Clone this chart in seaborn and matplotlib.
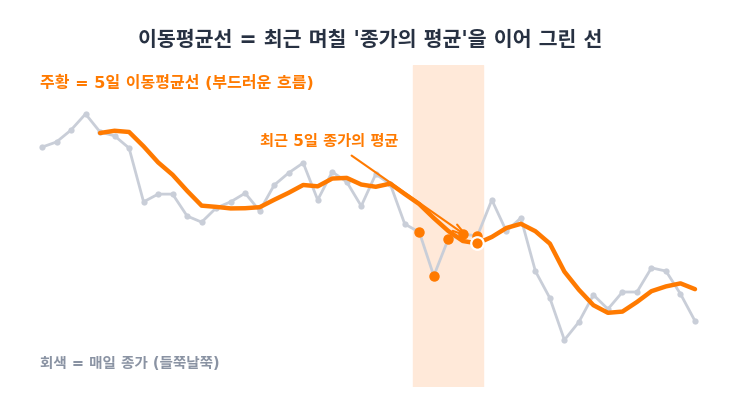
import matplotlib
matplotlib.use("Agg")
import matplotlib.pyplot as plt
import pandas as pd
import seaborn as sns

# daily closing prices (arbitrary scale 0-100)
close = [74.5, 76.1, 79.8, 84.8, 79.2, 78.0, 74.2, 57.5, 59.9, 59.9,
         53.1, 51.2, 55.6, 57.5, 60.2, 54.7, 62.7, 66.5, 69.6, 58.1,
         66.8, 63.7, 56.2, 66.1, 63.0, 50.6, 48.1, 34.5, 46.0, 47.5,
         46.9, 58.1, 48.4, 52.5, 36.0, 27.6, 14.6, 20.2, 28.6, 24.2,
         29.5, 29.5, 37.0, 36.0, 28.9, 20.5]
window = 5
focus_day = 30  # last day of the highlighted 5-day window

title = "이동평균선 = 최근 며칠 '종가의 평균'을 이어 그린 선"
orange_note = "주황 = 5일 이동평균선 (부드러운 흐름)"
gray_note = "회색 = 매일 종가 (들쭉날쭉)"
arrow_note = "최근 5일 종가의 평균"

ORANGE = "#ff7a00"
GRAY = "#c9ced8"

df = pd.DataFrame({"day": range(len(close)), "close": close})
df["ma"] = df["close"].rolling(window).mean()
win = df[(df["day"] > focus_day - window) & (df["day"] <= focus_day)]

sns.set_style("white")
# latin glyphs/spaces from DejaVu (wider), hangul falls back to Noto CJK
plt.rcParams["font.family"] = ["DejaVu Sans", "Noto Sans CJK KR"]

fig = plt.figure(figsize=(7.36, 4.14), dpi=100)
ax = fig.add_axes([20 / 736, 1 - 388 / 414, 696 / 736, 322 / 414])

ax.axvspan(focus_day - window + 0.6, focus_day + 0.4, color="#ffe9d9", zorder=0)

sns.lineplot(data=df, x="day", y="close", ax=ax, color=GRAY, linewidth=2,
             marker="o", markersize=4.5, markeredgewidth=0, zorder=2)
sns.lineplot(data=df.dropna(), x="day", y="ma", ax=ax, color=ORANGE,
             linewidth=3.2, zorder=3)
ax.plot(win["day"], win["close"], "o", color=ORANGE, markersize=6.5, zorder=4)
ax.plot([focus_day], [df["ma"][focus_day]], "o", color=ORANGE, markersize=9,
        markeredgecolor="white", markeredgewidth=1.6, zorder=6)

ax.annotate(arrow_note, xy=(focus_day, df["ma"][focus_day]), xytext=(19.8, 76.7),
            ha="center", va="center", fontsize=11, fontweight="bold", color=ORANGE,
            arrowprops=dict(arrowstyle="->,head_length=0.9,head_width=0.25",
                            color=ORANGE, lw=1.5, shrinkA=6, shrinkB=7),
            zorder=5)

ax.set_xlim(-1.516, 46.447)
ax.set_ylim(0, 100)
ax.set_axis_off()

fig.text(370 / 736, 1 - 40 / 414, title, ha="center", va="center", fontsize=14.8,
         fontweight="bold", color="#273142")
fig.text(40 / 736, 1 - 83 / 414, orange_note, ha="left", va="center",
         fontsize=11.5, fontweight="bold", color=ORANGE)
fig.text(40 / 736, 1 - 364 / 414, gray_note, ha="left", va="center",
         fontsize=10.5, fontweight="bold", color="#8a93a3")

fig.savefig("out.png", dpi=100)
